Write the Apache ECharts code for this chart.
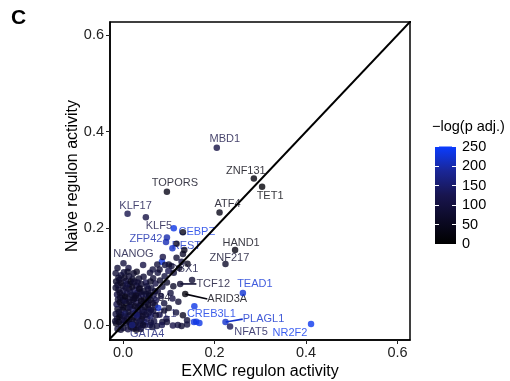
<!DOCTYPE html>
<html><head><meta charset="utf-8">
<script src="https://cdn.jsdelivr.net/npm/echarts@6/dist/echarts.min.js"></script>
<style>html,body{margin:0;padding:0;background:#fff}#c{width:510px;height:381px}</style>
</head><body><div id="c"></div>
<script>
// ---------- data ----------
const labNames = ['MBD1','ZNF131','TET1','TOPORS','KLF17','KLF5','CEBPZ','ZFP42','REST','ATF4','HAND1','ZNF217','NANOG','DBX1','TCF12','ARID3A','TEAD1','CREB3L1','PLAGL1','NFAT5','NR2F2','GATA4','TCF7L1','ZNF384'];
const labX = [0.205,0.286,0.304,0.096,0.010,0.050,0.111,0.096,0.108,0.211,0.245,0.224,0.001,0.092,0.125,0.136,0.262,0.156,0.224,0.234,0.411,0.020,0.030,0.025];
const labY = [0.367,0.303,0.286,0.276,0.230,0.223,0.200,0.181,0.159,0.233,0.155,0.126,0.128,0.124,0.085,0.064,0.066,0.039,0.006,-0.003,0.002,0.000,0.020,0.055];
const labP = [110,20,15,40,120,110,235,200,215,40,30,70,100,100,80,20,225,235,220,130,240,160,150,60];

const otherX = [-0.012,0.001,0.011,0.023,0.034,-0.015,-0.004,0.007,0.016,0.028,0.038,0.047,-0.013,-0.002,0.009,0.020,0.031,0.041,0.053,-0.016,-0.005,0.005,0.015,0.026,0.036,0.046,-0.012,-0.001,0.010,0.021,0.032,0.043,0.056,-0.014,-0.003,0.007,0.018,0.029,0.039,0.051,-0.011,0.000,0.011,0.022,0.034,0.046,-0.013,-0.002,0.008,0.019,0.031,0.042,-0.010,0.001,0.013,0.025,0.037,-0.012,0.000,0.015,0.029,-0.008,0.006,0.021,-0.004,0.013,
 0.002,0.023,0.044,0.059,0.012,0.035,0.050,0.066,0.076,0.085,0.106,0.087,0.117,0.131,0.117,0.134,0.131,0.094,
 0.062,0.071,0.081,0.091,0.099,0.111,0.123,0.128,0.141,
 0.066,0.076,0.086,0.096,0.072,0.083,
 0.061,0.070,0.080,0.090,0.100,0.108,0.121,0.116,0.095,0.086,0.131,0.140,0.077,0.151,0.104,0.060,0.068,
 0.048,0.059,0.074,0.085,0.096,0.109,0.120,0.140,0.128,0.064,
 0.160,0.167,0.155,
 -0.017,-0.009,0.004,0.014,0.025,0.036,-0.008,0.002,0.012,0.023,0.033,0.042,-0.009,0.001,0.015,0.026,0.037,0.048,-0.007,0.004,0.014,0.025,0.040,0.055,-0.006,0.005,0.016,0.028,0.038,0.050,-0.007,0.006,0.020,0.032,-0.016,-0.005,0.009,-0.015,0.017,-0.010,0.003,-0.016,0.045,0.055,0.058,0.050,0.057,0.044,0.029,-0.005,0.017,0.039,0.061,0.065,0.060,
 0.040,0.052,0.060,0.045,0.030,0.070,0.056,0.066,0.055,0.072,0.035,0.025,0.010,-0.012,0.065,0.080,0.100,0.075,0.090,0.110];
const otherY = [-0.008,-0.006,-0.009,-0.007,-0.005,0.003,0.001,0.004,0.002,0.005,0.001,0.006,0.013,0.011,0.014,0.010,0.015,0.012,0.013,0.023,0.021,0.024,0.020,0.025,0.022,0.027,0.033,0.031,0.035,0.032,0.036,0.031,0.034,0.043,0.041,0.045,0.042,0.046,0.043,0.047,0.053,0.051,0.055,0.052,0.056,0.053,0.063,0.061,0.065,0.062,0.066,0.063,0.073,0.071,0.075,0.072,0.076,0.083,0.081,0.085,0.082,0.093,0.091,0.095,0.103,0.101,
 0.109,0.107,0.124,0.108,0.118,0.096,0.088,0.097,0.108,0.131,0.122,0.141,0.139,0.147,0.168,0.155,0.192,0.172,
 0.076,0.086,0.092,0.101,0.112,0.108,0.118,0.131,0.127,
 0.061,0.070,0.079,0.088,0.051,0.060,
 0.031,0.041,0.021,0.045,0.035,0.055,0.048,0.026,0.013,0.006,0.020,0.010,0.035,0.093,0.066,0.018,0.008,
 -0.001,0.000,-0.002,0.000,0.006,-0.001,0.000,0.001,-0.002,-0.004,
 0.007,0.004,0.006,
 0.008,0.006,0.009,0.006,0.000,0.008,0.017,0.018,0.027,0.016,0.027,0.018,0.027,0.036,0.038,0.039,0.040,0.038,0.047,0.050,0.048,0.058,0.050,0.055,0.057,0.059,0.068,0.061,0.068,0.064,0.067,0.077,0.079,0.088,0.077,0.087,0.085,0.090,0.090,0.098,0.098,0.107,0.070,0.075,0.062,0.021,0.026,0.000,-0.010,-0.010,-0.004,-0.008,0.005,0.045,0.052,
 0.085,0.080,0.090,0.100,0.110,0.070,0.065,0.030,0.042,0.020,0.075,0.090,0.110,0.118,0.115,0.115,0.125,0.125,0.030,0.080];
const otherP = [90,70,110,80,130,60,100,85,140,75,95,170,80,120,65,90,105,55,115,100,75,190,95,60,125,85,70,110,90,140,80,100,65,120,85,40,95,115,75,135,90,60,105,80,100,30,110,85,125,70,95,115,80,100,60,130,90,105,75,95,110,85,120,70,100,90,
 95,80,110,90,105,75,120,85,100,230,90,110,85,70,60,50,40,205,
 95,110,80,100,125,90,70,105,60,
 115,85,100,75,120,90,
 105,80,115,95,70,110,85,100,125,90,60,95,215,85,100,140,105,
 110,130,100,120,90,115,105,100,85,95,
 240,235,230,
 70,50,90,60,80,100,40,85,70,55,90,65,75,45,95,60,80,70,55,100,65,85,50,90,70,40,95,60,80,100,65,85,55,90,75,60,100,70,45,80,65,90,75,85,60,80,95,70,60,85,75,90,100,85,70,
 80,95,70,85,60,90,75,95,65,85,55,80,70,90,100,85,75,95,80,70];

const diagX = [-0.05, 0.7];
const diagY = [-0.05, 0.7];
const axisTicks = [0, 0.2, 0.4, 0.6];
const legendTicks = [0, 50, 100, 150, 200, 250];
const pMax = 250;

// ---------- styles / layout ----------
const colorStops = ['#000000','#0c0a26','#18154f','#1a2697','#0a3cff'];
const labelOffsets = {MBD1:[8,-9],ZNF131:[-8,-8],TET1:[8,9],TOPORS:[8,-9],KLF17:[8,-8],KLF5:[13,9],CEBPZ:[23,4],ZFP42:[-21,1],REST:[14,-2],ATF4:[8,-8],HAND1:[6,-7],ZNF217:[4,-6],NANOG:[10,-9],DBX1:[19,4],TCF12:[33,0],ARID3A:[42,5],TEAD1:[12,-9],CREB3L1:[17,8],PLAGL1:[38,-3],NFAT5:[21,6],NR2F2:[-21,9],GATA4:[15,9],TCF7L1:[20,-1],ZNF384:[16,0]};
const segmentLabels = ['TCF12','ARID3A','PLAGL1'];
const FONT = 'Liberation Sans, Arial, Helvetica, sans-serif';

function hex(h){return [parseInt(h.slice(1,3),16),parseInt(h.slice(3,5),16),parseInt(h.slice(5,7),16)];}
function colorOf(p){
  const n = colorStops.length - 1;
  const t = Math.max(0, Math.min(1, p / pMax)) * n;
  const i = Math.min(Math.floor(t), n - 1);
  const f = t - i;
  const a = hex(colorStops[i]), b = hex(colorStops[i+1]);
  const c = a.map((v,k)=>Math.round(v + (b[k]-v)*f));
  return 'rgb(' + c.join(',') + ')';
}

const pointData = [];
otherX.forEach((x,i)=>pointData.push({value:[x, otherY[i]], itemStyle:{color:colorOf(otherP[i])}}));
labNames.forEach((n,i)=>pointData.push({value:[labX[i], labY[i]], itemStyle:{color:colorOf(labP[i])}}));

const labelData = labNames.map((n,i)=>{
  const col = colorOf(labP[i]);
  const d = {name:n, value:[labX[i], labY[i]], label:{color:col}};
  if (segmentLabels.indexOf(n) >= 0) d.labelLine = {show:true, lineStyle:{color:col, width:1.6}};
  return d;
});

const chart = echarts.init(document.getElementById('c'), null, {renderer:'canvas'});
chart.setOption({
  animation:false,
  backgroundColor:'#fff',
  textStyle:{fontFamily:FONT},
  grid:[
    {left:110, top:22, width:300, height:318, show:true, borderColor:'#000', borderWidth:1.5, backgroundColor:'transparent', outerBoundsMode:'none', containLabel:false},
    {left:435, top:146.5, width:21, height:97.5, outerBoundsMode:'none', containLabel:false}
  ],
  xAxis:[
    {type:'value', gridIndex:0, min:-0.0284, max:0.6273,
     axisLine:{show:true, onZero:false, lineStyle:{color:'#000', width:1.5}},
     axisTick:{show:true, customValues:axisTicks, length:4, lineStyle:{color:'#222', width:1}},
     axisLabel:{customValues:axisTicks, formatter:v=>v.toFixed(1), fontSize:14.5, color:'#222', margin:5, fontFamily:FONT},
     splitLine:{show:false},
     name:'EXMC regulon activity', nameLocation:'middle', nameGap:24, nameMoveOverlap:false,
     nameTextStyle:{fontSize:16, color:'#000', fontFamily:FONT}},
    {type:'category', gridIndex:1, data:['c'], show:false}
  ],
  yAxis:[
    {type:'value', gridIndex:0, min:-0.031, max:0.627,
     axisLine:{show:true, onZero:false, lineStyle:{color:'#000', width:1.5}},
     axisTick:{show:true, customValues:axisTicks, length:4, lineStyle:{color:'#222', width:1}},
     axisLabel:{customValues:axisTicks, formatter:v=>v.toFixed(1), fontSize:14.5, color:'#222', margin:6, fontFamily:FONT},
     splitLine:{show:false},
     name:'Naive regulon activity', nameLocation:'middle', nameGap:29, nameMoveOverlap:false,
     nameTextStyle:{fontSize:16, color:'#000', fontFamily:FONT, padding:[0,0,0,10]}},
    {type:'value', gridIndex:1, min:0, max:pMax, interval:50, position:'right', z:5,
     axisLine:{show:false}, splitLine:{show:false},
     axisTick:{show:true, inside:true, length:4, lineStyle:{color:'#fff', width:1}},
     axisLabel:{fontSize:14.5, color:'#000', margin:6, fontFamily:FONT}},
    {type:'value', gridIndex:1, min:0, max:pMax, interval:50, position:'left', z:5,
     axisLine:{show:false}, splitLine:{show:false},
     axisTick:{show:true, inside:true, length:4, lineStyle:{color:'#fff', width:1}},
     axisLabel:{show:false}}
  ],
  series:[
    {type:'scatter', name:'labels', xAxisIndex:0, yAxisIndex:0, z:2,
     symbolSize:0.5, itemStyle:{color:'rgba(0,0,0,0)'},
     data:labelData,
     label:{show:true, position:'inside', formatter:p=>p.name, fontSize:11, fontFamily:FONT},
     labelLine:{show:false},
     labelLayout:function(params){
       const o = labelOffsets[labNames[params.dataIndex]] || [0,0];
       return {dx:o[0], dy:o[1]};
     }},
    {type:'scatter', name:'points', xAxisIndex:0, yAxisIndex:0, z:3,
     symbolSize:6.5, data:pointData},
    {type:'line', name:'diag', xAxisIndex:0, yAxisIndex:0, z:4, symbol:'none',
     data:diagX.map((x,i)=>[x, diagY[i]]), lineStyle:{color:'#000', width:2}},
    {type:'bar', xAxisIndex:1, yAxisIndex:1, z:1, barWidth:'100%', data:[pMax],
     itemStyle:{color:new echarts.graphic.LinearGradient(0,1,0,0,
       colorStops.map((c,i)=>({offset:i/(colorStops.length-1), color:c})))}}
  ],
  graphic:[
    {type:'text', left:11, top:8, style:{text:'C', fontSize:21, fontWeight:'bold', fill:'#000', fontFamily:FONT}},
    {type:'text', left:432, top:119, style:{text:'\u2212log(p adj.)', fontSize:14.5, fill:'#000', fontFamily:FONT}}
  ]
});
</script></body></html>
